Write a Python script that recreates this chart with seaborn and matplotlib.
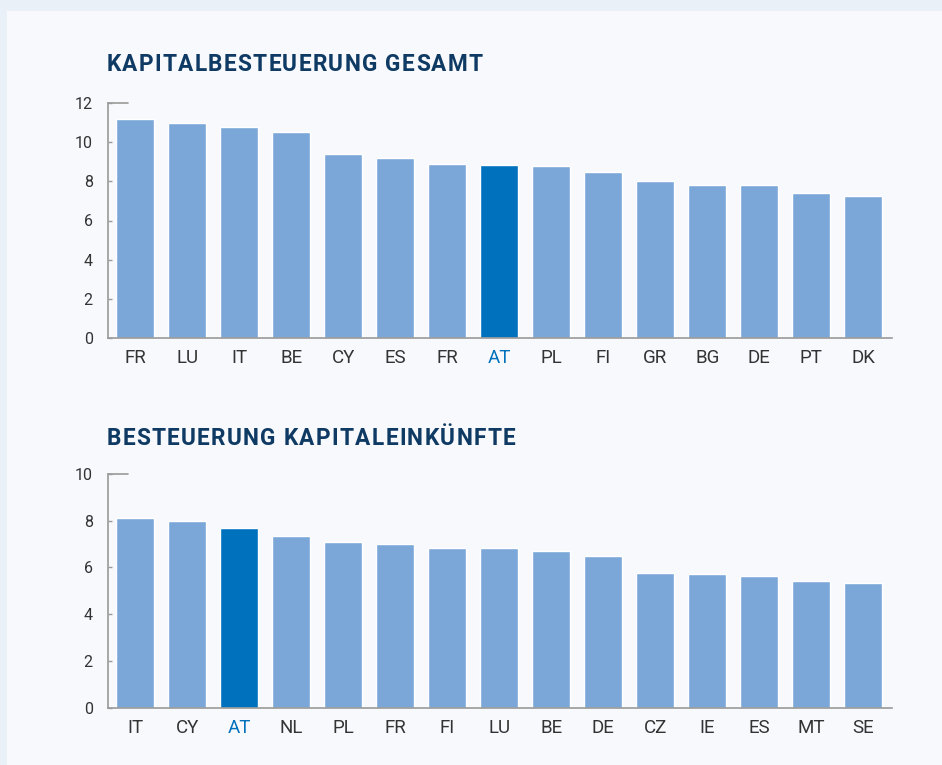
import matplotlib.pyplot as plt
import pandas as pd
import seaborn as sns
from matplotlib.font_manager import FontProperties
from matplotlib.patches import Rectangle

# ── Data ──────────────────────────────────────────────────────────────────────
top_title = "KAPITALBESTEUERUNG GESAMT"
top_countries = ["FR", "LU", "IT", "BE", "CY", "ES", "FR", "AT",
                 "PL", "FI", "GR", "BG", "DE", "PT", "DK"]
top_values = [11.2, 11.0, 10.8, 10.5, 9.4, 9.2, 8.9, 8.85,
              8.8, 8.5, 8.0, 7.8, 7.8, 7.4, 7.25]
top_yticks = [0, 2, 4, 6, 8, 10, 12]

bottom_title = "BESTEUERUNG KAPITALEINKÜNFTE"
bottom_countries = ["IT", "CY", "AT", "NL", "PL", "FR", "FI", "LU",
                    "BE", "DE", "CZ", "IE", "ES", "MT", "SE"]
bottom_values = [8.1, 8.0, 7.7, 7.35, 7.1, 7.0, 6.85, 6.85,
                 6.7, 6.5, 5.75, 5.72, 5.65, 5.42, 5.35]
bottom_yticks = [0, 2, 4, 6, 8, 10]

highlight = "AT"

# ── Style ─────────────────────────────────────────────────────────────────────
BAR_LIGHT = "#7ba7d8"
BAR_DARK = "#0071bc"
TITLE_COLOR = "#0e3a63"
TEXT_COLOR = "#333333"
AXIS_COLOR = "#9a9a9a"
OUTER_BG = "#e9f0f8"
PANEL_BG = "#f7f9fd"
W, H = 942, 765

sns.set_theme(style="white")
plt.rcParams["font.family"] = ["Roboto", "DejaVu Sans"]

fig = plt.figure(figsize=(W / 100, H / 100), dpi=100)
fig.patch.set_facecolor(OUTER_BG)
panel = Rectangle((7 / W, 0), 1, 1 - 11 / H, transform=fig.transFigure,
                  facecolor=PANEL_BG, edgecolor="none", zorder=-10)
fig.add_artist(panel)

ax_top = fig.add_axes([108 / W, 1 - 338 / H, 784 / W, 235 / H])
ax_bot = fig.add_axes([108 / W, 1 - 707.7 / H, 784 / W, 233.7 / H])

title_font = FontProperties(family=["Roboto", "DejaVu Sans"], weight="bold", size=16.3)
renderer = fig.canvas.get_renderer()


def text_width(s):
    t = fig.text(0, 0, s, fontproperties=title_font)
    w = t.get_window_extent(renderer).width
    t.remove()
    return w


def tracked_title(s, x_px, baseline_px, tracking_px=1.3):
    # matplotlib has no letter-spacing, so place the letters one by one
    bar_w = text_width("|")
    for i, ch in enumerate(s):
        if ch == " ":
            continue
        offset = text_width(s[:i] + "|") - bar_w if i else 0
        fig.text((x_px + offset + i * tracking_px) / W, 1 - baseline_px / H, ch,
                 fontproperties=title_font, color=TITLE_COLOR,
                 ha="left", va="baseline")


def draw_panel(ax, countries, values, yticks):
    df = pd.DataFrame({"pos": range(len(countries)), "country": countries, "value": values})
    colors = [BAR_DARK if c == highlight else BAR_LIGHT for c in countries]
    sns.barplot(data=df, x="pos", y="value", hue="pos", palette=colors,
                legend=False, width=0.73, saturation=1, ax=ax)
    ax.set_facecolor("none")
    ax.set_xlim(-0.52, len(countries) - 0.45)
    ax.set_ylim(0, yticks[-1])
    ax.set_yticks(yticks)
    ax.set_xticks(range(len(countries)))
    ax.set_xticklabels(countries)
    ax.set_xlabel("")
    ax.set_ylabel("")
    ax.tick_params(axis="x", length=0, labelsize=13.5, labelcolor=TEXT_COLOR, pad=8)
    ax.tick_params(axis="y", left=True, direction="in", length=3, width=1,
                   color=AXIS_COLOR, labelsize=11.5, labelcolor=TEXT_COLOR, pad=11)
    for lbl, c in zip(ax.get_xticklabels(), countries):
        if c == highlight:
            lbl.set_color(BAR_DARK)
    for side in ["top", "right"]:
        ax.spines[side].set_visible(False)
    for side in ["left", "bottom"]:
        ax.spines[side].set_color(AXIS_COLOR)
        ax.spines[side].set_linewidth(1.2)
    # short stub at the top of the value axis
    ax.axhline(yticks[-1], xmin=0, xmax=20 / 784, color=AXIS_COLOR, linewidth=1.2,
               clip_on=False)


draw_panel(ax_top, top_countries, top_values, top_yticks)
draw_panel(ax_bot, bottom_countries, bottom_values, bottom_yticks)
tracked_title(top_title, 106.5, 71)
tracked_title(bottom_title, 106.5, 445)

fig.savefig("out.png", dpi=100, facecolor=fig.get_facecolor())
